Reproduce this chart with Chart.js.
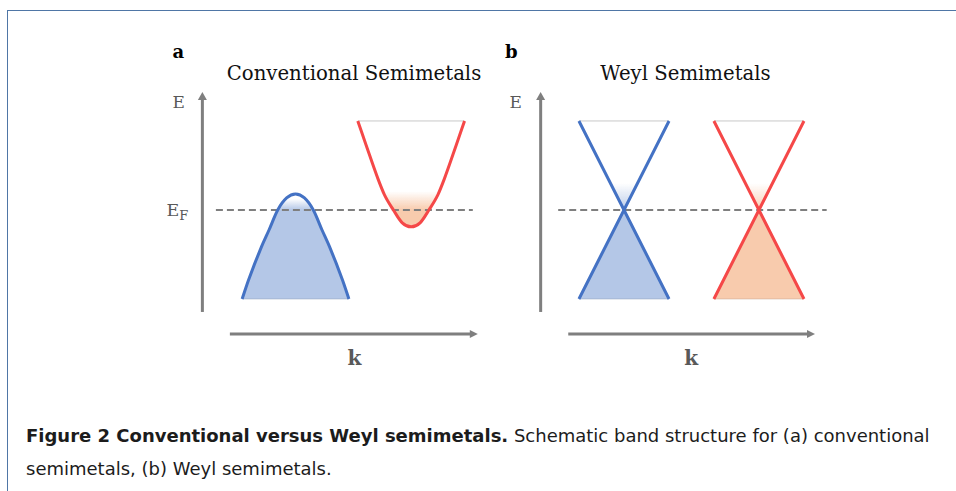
<!DOCTYPE html>
<html>
<head>
<meta charset="utf-8">
<script src="https://cdn.jsdelivr.net/npm/chart.js@4.4.0/dist/chart.umd.min.js"></script>
<style>
html,body{margin:0;padding:0;background:#fff;width:956px;height:491px;overflow:hidden;position:relative}
.frame{position:absolute;left:7px;top:10px;width:1000px;height:600px;border-top:1px solid #4f76a6;border-left:1px solid #4f76a6}
canvas{position:absolute}
.t{position:absolute;white-space:nowrap;font-family:"DejaVu Serif",serif;line-height:1}
.title{font-size:19.7px;color:#111;width:300px;text-align:center;top:64.3px}
.pl{font-size:18px;font-weight:bold;color:#000;top:43.1px}
.elab{font-size:17px;color:#595959}
.klab{font-size:20px;font-weight:bold;color:#595959;width:40px;text-align:center;top:348.1px}
.cap{position:absolute;left:26px;white-space:nowrap;font-family:"DejaVu Sans",sans-serif;font-size:16.5px;line-height:1;color:#1c1c1c}
.cap b{font-weight:bold}
</style>
</head>
<body>
<div class="frame"></div>

<div class="t pl" style="left:172.5px">a</div>
<div class="t pl" style="left:505px">b</div>
<div class="t title" style="left:204px">Conventional Semimetals</div>
<div class="t title" style="left:535.5px">Weyl Semimetals</div>
<div class="t elab" style="left:172.5px;top:93.9px">E</div>
<div class="t elab" style="left:509.5px;top:93.9px">E</div>
<div class="t elab" style="left:166.5px;top:202px;font-size:17.5px">E<span style="font-size:13px;position:relative;top:4px">F</span></div>
<div class="t klab" style="left:334.5px">k</div>
<div class="t klab" style="left:671.3px">k</div>

<canvas id="chartA" width="290" height="255" style="left:195px;top:85px"></canvas>
<canvas id="chartB" width="300" height="255" style="left:533px;top:85px"></canvas>

<div class="cap" id="cap1" style="top:427px"><b>Figure 2 Conventional versus Weyl semimetals.</b> Schematic band structure for (a) conventional</div>
<div class="cap" id="cap2" style="top:460px">semimetals, (b) Weyl semimetals.</div>

<script>
// Panel a: conventional semimetal
const valenceK    = [-1.25, -1.178, -1.032, -0.948, -0.85, -0.75, -0.65, -0.55, -0.45, -0.352, -0.268, -0.122, -0.05];
const valenceE    = [-1.0, -0.787, -0.412, -0.225, 0.0, 0.135, 0.18, 0.135, 0.0, -0.225, -0.412, -0.787, -1.0];
const conductionK = [0.05, 0.144, 0.276, 0.35, 0.45, 0.55, 0.65, 0.75, 0.85, 0.95, 1.024, 1.156, 1.25];
const conductionE = [1.0, 0.727, 0.352, 0.17, 0.0, -0.145, -0.19, -0.145, 0.0, 0.17, 0.352, 0.727, 1.0];
const fermiSpanA  = [-1.545, 1.343];
// Panel b: Weyl semimetal (two cones)
const weylLeftK   = [-1.264, -0.758, -0.252];
const weylRightK  = [0.252, 0.758, 1.264];
const coneUpperE  = [1.0, 0.0, 1.0];
const coneLowerE  = [-1.0, 0.0, -1.0];
const fermiSpanB  = [-1.497, 1.519];
const fermiE      = 0;
const bandTopE    = 1.0;
const bandBottomE = -1.0;

// ---------- helpers ----------
const BLUE = '#4472c4', RED = '#f54848', GRAY = '#7f7f7f';
const BLUE_FILL = '180,199,231', ORANGE_FILL = '248,203,173';

function pts(ks, es) { return ks.map((k, i) => ({x: k, y: es[i]})); }
function flat(ks, e) { return [{x: ks[0], y: e}, {x: ks[ks.length - 1], y: e}]; }

function fade(rgb, solidE, clearE, alpha) {
  return function (ctx) {
    const chart = ctx.chart;
    if (!chart.chartArea || !chart.scales.y) return 'rgba(' + rgb + ',' + alpha + ')';
    const y = chart.scales.y;
    const g = chart.ctx.createLinearGradient(0, y.getPixelForValue(clearE), 0, y.getPixelForValue(solidE));
    g.addColorStop(0, 'rgba(' + rgb + ',0)');
    g.addColorStop(1, 'rgba(' + rgb + ',' + alpha + ')');
    return g;
  };
}

function lineDs(data, color, width, extra) {
  return Object.assign({data, showLine: true, borderColor: color, borderWidth: width,
    backgroundColor: 'rgba(0,0,0,0)', pointRadius: 0, fill: false, borderJoinStyle: 'round',
    borderCapStyle: 'butt'}, extra || {});
}
function fillDs(data, bg, fill, extra) {
  return Object.assign({data, showLine: true, borderWidth: 0, borderColor: 'rgba(0,0,0,0)',
    backgroundColor: bg, pointRadius: 0, fill}, extra || {});
}

const axisArrows = {
  id: 'axisArrows',
  afterDatasetsDraw(chart, args, o) {
    const {ctx, scales: {x, y}} = chart;
    ctx.save();
    ctx.strokeStyle = GRAY; ctx.fillStyle = GRAY; ctx.lineWidth = 3; ctx.lineCap = 'butt';
    // energy axis (vertical)
    const ex = x.getPixelForValue(o.eAxisAt);
    const eb = y.getPixelForValue(o.eFrom), et = y.getPixelForValue(o.eTo);
    ctx.beginPath(); ctx.moveTo(ex, eb); ctx.lineTo(ex, et + 6); ctx.stroke();
    ctx.beginPath(); ctx.moveTo(ex, et); ctx.lineTo(ex - 4.5, et + 8); ctx.lineTo(ex + 4.5, et + 8); ctx.closePath(); ctx.fill();
    // momentum axis (horizontal)
    const ky = y.getPixelForValue(o.kAxisAt);
    const kl = x.getPixelForValue(o.kFrom), kr = x.getPixelForValue(o.kTo);
    ctx.beginPath(); ctx.moveTo(kl, ky); ctx.lineTo(kr - 6, ky); ctx.stroke();
    ctx.beginPath(); ctx.moveTo(kr, ky); ctx.lineTo(kr - 8, ky - 4); ctx.lineTo(kr - 8, ky + 4); ctx.closePath(); ctx.fill();
    ctx.restore();
  }
};

function baseOptions(kMin, kMax, arrows) {
  return {
    responsive: false, animation: false, devicePixelRatio: 1, events: [],
    layout: {padding: 0},
    scales: {
      x: {type: 'linear', display: false, min: kMin, max: kMax},
      y: {type: 'linear', display: false, min: -1.461, max: 1.404}
    },
    elements: {line: {tension: 0}},
    plugins: {legend: {display: false}, tooltip: {enabled: false}, title: {display: false}, axisArrows: arrows}
  };
}

// ---------- panel a ----------
new Chart(document.getElementById('chartA'), {
  type: 'scatter',
  plugins: [axisArrows],
  data: {datasets: [
    lineDs(pts(valenceK, valenceE), BLUE, 3, {cubicInterpolationMode: 'monotone'}),
    lineDs(pts(conductionK, conductionE), RED, 3, {cubicInterpolationMode: 'monotone'}),
    lineDs(flat(conductionK, bandTopE), '#c9c9c9', 1),
    lineDs(flat(valenceK, bandBottomE), 'rgba(150,165,190,0.55)', 1),
    lineDs(flat(fermiSpanA, fermiE), GRAY, 2, {borderDash: [7, 4]}),
    fillDs(pts(valenceK, valenceE), fade(BLUE_FILL, fermiE, 0.125, 1), {value: bandBottomE}, {cubicInterpolationMode: 'monotone'}),
    fillDs(pts(conductionK, conductionE), fade(ORANGE_FILL, fermiE, 0.21, 1),
      {target: {value: 0.22}, above: 'rgba(0,0,0,0)'}, {cubicInterpolationMode: 'monotone'})
  ]},
  options: baseOptions(-1.78, 1.48, {eAxisAt: -1.697, eFrom: -1.146, eTo: 1.326, kAxisAt: -1.393, kFrom: -1.388, kTo: 1.399})
});

// ---------- panel b ----------
new Chart(document.getElementById('chartB'), {
  type: 'scatter',
  plugins: [axisArrows],
  data: {datasets: [
    lineDs(pts(weylLeftK, coneUpperE), BLUE, 3),
    lineDs(pts(weylLeftK, coneLowerE), BLUE, 3),
    lineDs(pts(weylRightK, coneUpperE), RED, 3),
    lineDs(pts(weylRightK, coneLowerE), RED, 3),
    lineDs(flat(weylLeftK, bandTopE), '#c9c9c9', 1),
    lineDs(flat(weylLeftK, bandBottomE), 'rgba(150,165,190,0.55)', 1),
    lineDs(flat(weylRightK, bandTopE), '#c9c9c9', 1),
    lineDs(flat(weylRightK, bandBottomE), 'rgba(200,170,150,0.55)', 1),
    lineDs(flat(fermiSpanB, fermiE), GRAY, 2, {borderDash: [7, 4]}),
    fillDs(pts(weylLeftK, coneLowerE), 'rgb(' + BLUE_FILL + ')', {value: bandBottomE}),
    fillDs(pts(weylRightK, coneLowerE), 'rgb(' + ORANGE_FILL + ')', {value: bandBottomE}),
    fillDs(pts(weylLeftK, coneUpperE), fade(BLUE_FILL, fermiE, 0.3, 0.9), {target: {value: 0.31}, above: 'rgba(0,0,0,0)'}),
    fillDs(pts(weylRightK, coneUpperE), fade(ORANGE_FILL, fermiE, 0.3, 0.9), {target: {value: 0.31}, above: 'rgba(0,0,0,0)'})
  ]},
  options: baseOptions(-1.78, 1.59, {eAxisAt: -1.694, eFrom: -1.146, eTo: 1.326, kAxisAt: -1.393, kFrom: -1.384, kTo: 1.388})
});

// fit caption first line to the reference width
(function () {
  const c1 = document.getElementById('cap1'), c2 = document.getElementById('cap2');
  const w = c1.getBoundingClientRect().width;
  const size = 16.5 * 904 / w;
  c1.style.fontSize = size + 'px';
  c2.style.fontSize = size + 'px';
})();
</script>
</body>
</html>
